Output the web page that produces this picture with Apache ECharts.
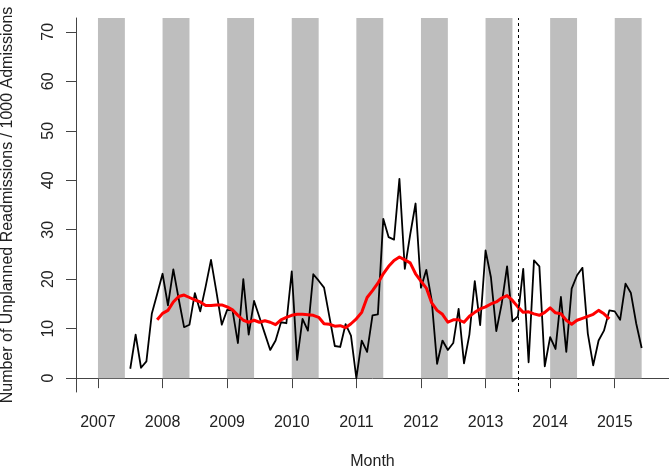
<!DOCTYPE html>
<html><head><meta charset="utf-8">
<script src="https://cdn.jsdelivr.net/npm/echarts@6/dist/echarts.min.js"></script>
<style>html,body{margin:0;padding:0;background:#fff}#c{width:669px;height:468px}</style>
</head><body><div id="c"></div>
<script>
// ---------- data ----------
const xTickValues = [2007, 2008, 2009, 2010, 2011, 2012, 2013, 2014, 2015];
const yTickValues = [0, 10, 20, 30, 40, 50, 60, 70];
const winterBandYears = [2007, 2008, 2009, 2010, 2011, 2012, 2013, 2014, 2015];
const bandMonthCount = 5;            // Jan - May shaded
const interventionDate = 2013.5;     // dashed vertical line
const monthlyStart = { year: 2007, month: 7 };
const monthlyRates = [
  1.9, 8.8, 2.1, 3.4, 13.0, 17.0,
  21.1, 14.7, 22.0, 16.0, 10.3, 10.8, 17.2, 13.5, 18.5, 23.9, 17.5, 10.8,
  13.8, 13.7, 7.1, 20.0, 8.8, 15.6, 12.3, 9.0, 5.7, 7.6, 11.3, 11.1,
  21.6, 3.7, 12.0, 9.6, 21.0, 19.7, 18.3, 12.4, 6.5, 6.3, 10.9, 8.6,
  0.0, 7.6, 5.3, 12.7, 12.9, 32.2, 28.5, 28.0, 40.3, 22.1, 29.0, 35.3,
  18.3, 21.9, 15.7, 2.9, 7.6, 5.7, 7.1, 14.0, 3.0, 8.8, 19.6, 10.7,
  25.8, 20.4, 9.5, 15.0, 22.6, 11.5, 12.5, 22.1, 3.2, 23.8, 22.6, 2.4,
  8.3, 5.9, 16.4, 5.3, 18.1, 20.8, 22.3, 9.0, 2.6, 7.6, 9.6, 13.7,
  13.5, 11.8, 19.1, 17.2, 11.0, 6.1
];
const smoothStart = { year: 2007, month: 12 };
const smoothRates = [
  11.8,
  13.1, 13.7, 15.4, 16.5, 16.8, 16.3, 15.8, 15.4, 14.7, 14.7, 14.8, 14.8,
  14.4, 13.8, 12.7, 11.7, 11.3, 11.7, 11.3, 11.6, 11.3, 10.8, 11.8, 12.3,
  12.7, 12.9, 12.9, 12.8, 12.7, 12.3, 11.0, 10.9, 10.5, 10.6, 10.2, 11.0,
  12.0, 13.3, 16.3, 17.7, 19.2, 21.1, 22.6, 23.8, 24.5, 23.9, 23.3, 21.1,
  19.6, 18.2, 15.2, 13.7, 12.9, 11.3, 11.8, 11.8, 11.3, 12.5, 13.3, 14.0,
  14.4, 15.0, 15.4, 16.2, 16.7, 15.7, 14.4, 13.3, 13.4, 13.0, 12.7, 13.3,
  14.2, 13.2, 13.0, 11.7, 10.9, 11.7, 12.1, 12.5, 12.9, 13.7, 13.0, 12.0
];

// ---------- helpers ----------
const toDec = (s, i) => s.year + (s.month - 1 + i) / 12;
const blackData = monthlyRates.map((v, i) => [toDec(monthlyStart, i), v]);
const redData = smoothRates.map((v, i) => [toDec(smoothStart, i), v]);
const bandData = winterBandYears.map(y => [y, y + bandMonthCount / 12]);

// R-style 4% axis extension
const xLo = winterBandYears[0], xHi = winterBandYears[winterBandYears.length - 1] + 0.5;
const xPad = 0.04 * (xHi - xLo);
const yLo = yTickValues[0], yHi = yTickValues[yTickValues.length - 1];
const yPad = 0.04 * (yHi - yLo);

const FONT = 'Liberation Sans, Arial, Helvetica, sans-serif';
const AX = '#444';

const chart = echarts.init(document.getElementById('c'), null, { renderer: 'canvas' });
chart.setOption({
  animation: false,
  backgroundColor: '#fff',
  grid: { left: 76, right: 0, top: 18, bottom: 76, containLabel: false, outerBoundsMode: 'none' },
  xAxis: {
    type: 'value', min: xLo - xPad, max: xHi + xPad,
    splitLine: { show: false },
    axisLine: { show: true, lineStyle: { color: AX, width: 1 } },
    axisTick: { show: true, length: 10, customValues: xTickValues, lineStyle: { color: AX } },
    axisLabel: { customValues: xTickValues, formatter: v => String(v), margin: 23,
      fontSize: 16, color: '#222', fontFamily: FONT },
    name: 'Month', nameLocation: 'middle', nameGap: 62,
    nameTextStyle: { fontSize: 16, color: '#222', fontFamily: FONT }
  },
  yAxis: {
    type: 'value', min: yLo - yPad, max: yHi + yPad,
    splitLine: { show: false },
    axisLine: { show: true, lineStyle: { color: AX, width: 1 } },
    axisTick: { show: true, length: 10, customValues: yTickValues, lineStyle: { color: AX } },
    axisLabel: { customValues: yTickValues, rotate: 90, margin: 19,
      fontSize: 16, color: '#222', fontFamily: FONT },
    name: 'Number of Unplanned Readmissions / 1000 Admissions',
    nameLocation: 'middle', nameGap: 60, nameRotate: 90,
    nameTextStyle: { fontSize: 16, color: '#222', fontFamily: FONT }
  },
  series: [
    {
      type: 'custom', z: 1, silent: true,
      data: bandData,
      renderItem: (params, api) => {
        const p0 = api.coord([api.value(0), 0]);
        const p1 = api.coord([api.value(1), yHi + yPad]);
        return { type: 'rect',
          shape: { x: p0[0], y: p1[1], width: p1[0] - p0[0], height: p0[1] - p1[1] },
          style: { fill: '#bebebe' } };
      }
    },
    {
      type: 'line', z: 3, data: blackData, showSymbol: false, symbol: 'none',
      lineStyle: { color: '#000', width: 1.8, join: 'round' },
      markLine: {
        silent: true, symbol: 'none', label: { show: false },
        lineStyle: { color: '#000', width: 1, type: [3, 3] },
        data: [{ xAxis: interventionDate }]
      }
    },
    {
      type: 'line', z: 4, data: redData, showSymbol: false, symbol: 'none',
      lineStyle: { color: '#ff0000', width: 3, join: 'round' }
    }
  ]
});
</script>
</body></html>
